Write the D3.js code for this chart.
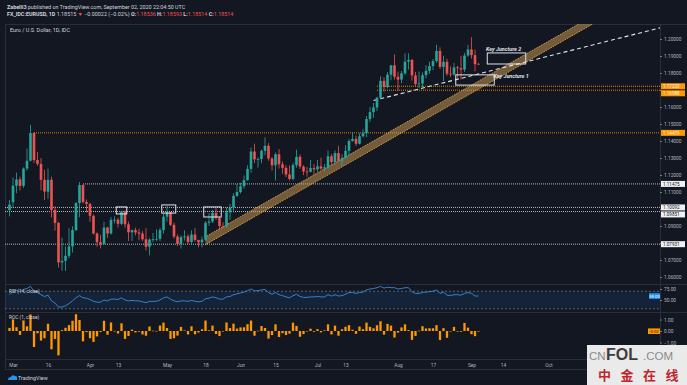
<!DOCTYPE html>
<html>
<head>
<meta charset="utf-8">
<script src="https://cdn.jsdelivr.net/npm/d3@7"></script>
<style>
  html,body{margin:0;padding:0;background:#131722;}
  svg{display:block;font-family:Roboto,"Liberation Sans",sans-serif;}
</style>
</head>
<body>
<svg id="chart" width="687" height="385"></svg>
<script>
// EUR/USD daily bars
var dates = ["2020-02-28",
  "2020-03-02","2020-03-03","2020-03-04","2020-03-05","2020-03-06","2020-03-09","2020-03-10","2020-03-11","2020-03-12","2020-03-13","2020-03-16","2020-03-17","2020-03-18","2020-03-19","2020-03-20","2020-03-23","2020-03-24","2020-03-25","2020-03-26","2020-03-27","2020-03-30","2020-03-31",
  "2020-04-01","2020-04-02","2020-04-03","2020-04-06","2020-04-07","2020-04-08","2020-04-09","2020-04-10","2020-04-13","2020-04-14","2020-04-15","2020-04-16","2020-04-17","2020-04-20","2020-04-21","2020-04-22","2020-04-23","2020-04-24","2020-04-27","2020-04-28","2020-04-29","2020-04-30",
  "2020-05-01","2020-05-04","2020-05-05","2020-05-06","2020-05-07","2020-05-08","2020-05-11","2020-05-12","2020-05-13","2020-05-14","2020-05-15","2020-05-18","2020-05-19","2020-05-20","2020-05-21","2020-05-22","2020-05-25","2020-05-26","2020-05-27","2020-05-28","2020-05-29",
  "2020-06-01","2020-06-02","2020-06-03","2020-06-04","2020-06-05","2020-06-08","2020-06-09","2020-06-10","2020-06-11","2020-06-12","2020-06-15","2020-06-16","2020-06-17","2020-06-18","2020-06-19","2020-06-22","2020-06-23","2020-06-24","2020-06-25","2020-06-26","2020-06-29","2020-06-30",
  "2020-07-01","2020-07-02","2020-07-03","2020-07-06","2020-07-07","2020-07-08","2020-07-09","2020-07-10","2020-07-13","2020-07-14","2020-07-15","2020-07-16","2020-07-17","2020-07-20","2020-07-21","2020-07-22","2020-07-23","2020-07-24","2020-07-27","2020-07-28","2020-07-29","2020-07-30","2020-07-31",
  "2020-08-03","2020-08-04","2020-08-05","2020-08-06","2020-08-07","2020-08-10","2020-08-11","2020-08-12","2020-08-13","2020-08-14","2020-08-17","2020-08-18","2020-08-19","2020-08-20","2020-08-21","2020-08-24","2020-08-25","2020-08-26","2020-08-27","2020-08-28","2020-08-31",
  "2020-09-01","2020-09-02","2020-09-03"];

var opens = [1.0993,
  1.1040,1.1137,1.1174,1.1136,1.1238,1.1284,1.1447,1.1288,1.1265,1.1172,1.1102,1.1172,1.0994,1.0918,1.0686,1.0695,1.0725,1.0780,1.0876,1.1035,1.1141,1.1041,
  1.1030,1.0960,1.0856,1.0805,1.0795,1.0891,1.0856,1.0936,1.0937,1.0913,1.0986,1.0910,1.0863,1.0876,1.0862,1.0855,1.0822,1.0778,1.0820,1.0823,1.0824,1.0876,
  1.0955,1.0983,1.0907,1.0838,1.0795,1.0834,1.0839,1.0806,1.0850,1.0818,1.0804,1.0820,1.0919,1.0926,1.0977,1.0948,1.0900,1.0899,1.0980,1.1007,1.1077,
  1.1100,1.1134,1.1170,1.1236,1.1338,1.1292,1.1294,1.1342,1.1372,1.1297,1.1257,1.1322,1.1263,1.1242,1.1203,1.1177,1.1258,1.1307,1.1250,1.1220,1.1219,1.1241,
  1.1233,1.1251,1.1238,1.1245,1.1310,1.1276,1.1329,1.1283,1.1300,1.1342,1.1400,1.1412,1.1384,1.1428,1.1446,1.1529,1.1570,1.1597,1.1655,1.1754,1.1717,1.1790,1.1845,
  1.1778,1.1761,1.1798,1.1867,1.1877,1.1786,1.1735,1.1738,1.1787,1.1813,1.1841,1.1870,1.1930,1.1836,1.1866,1.1796,1.1791,1.1833,1.1828,1.1820,1.1903,
  1.1938,1.1905,1.18536];

var highs = [1.1053,
  1.1185,1.1214,1.1190,1.1245,1.1356,1.1495,1.1453,1.1335,1.1300,1.1230,1.1237,1.1190,1.1017,1.0925,1.0831,1.0780,1.0887,1.0898,1.1040,1.1159,1.1145,1.1056,
  1.1036,1.0967,1.0862,1.0848,1.0925,1.0896,1.0952,1.0957,1.0949,1.0990,1.0990,1.0926,1.0879,1.0890,1.0884,1.0870,1.0887,1.0828,1.0859,1.0880,1.0888,1.0973,
  1.1019,1.0983,1.0920,1.0850,1.0845,1.0875,1.0851,1.0875,1.0888,1.0819,1.0838,1.0928,1.0975,1.0995,1.1008,1.0955,1.0923,1.1009,1.1030,1.1092,1.1147,
  1.1155,1.1197,1.1257,1.1361,1.1384,1.1305,1.1350,1.1422,1.1388,1.1306,1.1332,1.1353,1.1280,1.1257,1.1256,1.1272,1.1349,1.1321,1.1257,1.1248,1.1288,1.1264,
  1.1288,1.1303,1.1264,1.1345,1.1323,1.1345,1.1371,1.1322,1.1375,1.1411,1.1452,1.1431,1.1446,1.1469,1.1546,1.1601,1.1623,1.1660,1.1781,1.1775,1.1806,1.1848,1.1909,
  1.1808,1.1812,1.1916,1.1916,1.1883,1.1806,1.1809,1.1803,1.1845,1.1866,1.1882,1.1966,1.1951,1.1902,1.1884,1.1839,1.1859,1.1843,1.1901,1.1919,1.1966,
  1.2011,1.1937,1.18593];

var lows = [1.0957,
  1.1010,1.1093,1.1109,1.1124,1.1226,1.1280,1.1270,1.1254,1.1110,1.1053,1.1060,1.0950,1.0873,1.0655,1.0636,1.0636,1.0710,1.0744,1.0870,1.0952,1.1031,1.0980,
  1.0924,1.0850,1.0778,1.0768,1.0792,1.0830,1.0850,1.0915,1.0891,1.0906,1.0890,1.0812,1.0812,1.0845,1.0816,1.0812,1.0756,1.0727,1.0805,1.0812,1.0811,1.0855,
  1.0926,1.0900,1.0826,1.0782,1.0767,1.0814,1.0794,1.0795,1.0808,1.0775,1.0774,1.0812,1.0902,1.0917,1.0936,1.0871,1.0885,1.0889,1.0935,1.0980,1.1070,
  1.1091,1.1120,1.1167,1.1213,1.1271,1.1243,1.1270,1.1317,1.1284,1.1227,1.1168,1.1238,1.1207,1.1188,1.1168,1.1169,1.1243,1.1236,1.1199,1.1189,1.1215,1.1198,
  1.1218,1.1229,1.1220,1.1240,1.1259,1.1262,1.1277,1.1254,1.1296,1.1313,1.1396,1.1371,1.1380,1.1421,1.1423,1.1512,1.1537,1.1577,1.1652,1.1690,1.1710,1.1757,1.1761,
  1.1696,1.1740,1.1789,1.1820,1.1755,1.1723,1.1711,1.1712,1.1768,1.1795,1.1816,1.1860,1.1823,1.1753,1.1784,1.1777,1.1786,1.1772,1.1762,1.1805,1.1895,
  1.1885,1.1810,1.18514];

var closes = [1.1026,
  1.1137,1.1174,1.1136,1.1238,1.1284,1.1447,1.1288,1.1265,1.1172,1.1102,1.1172,1.0994,1.0918,1.0686,1.0695,1.0725,1.0780,1.0876,1.1035,1.1141,1.1041,1.1030,
  1.0960,1.0856,1.0805,1.0795,1.0891,1.0856,1.0936,1.0937,1.0913,1.0986,1.0910,1.0863,1.0876,1.0862,1.0855,1.0822,1.0778,1.0820,1.0823,1.0824,1.0876,1.0955,
  1.0983,1.0907,1.0838,1.0795,1.0834,1.0839,1.0806,1.0850,1.0818,1.0804,1.0820,1.0919,1.0926,1.0977,1.0948,1.0900,1.0899,1.0980,1.1007,1.1077,1.1100,
  1.1134,1.1170,1.1236,1.1338,1.1292,1.1294,1.1342,1.1372,1.1297,1.1257,1.1322,1.1263,1.1242,1.1203,1.1177,1.1258,1.1307,1.1250,1.1220,1.1219,1.1241,1.1233,
  1.1251,1.1238,1.1245,1.1310,1.1276,1.1329,1.1283,1.1300,1.1342,1.1400,1.1412,1.1384,1.1428,1.1446,1.1529,1.1570,1.1597,1.1655,1.1754,1.1717,1.1790,1.1845,1.1778,
  1.1761,1.1798,1.1867,1.1877,1.1786,1.1735,1.1738,1.1787,1.1813,1.1841,1.1870,1.1930,1.1836,1.1866,1.1796,1.1791,1.1833,1.1828,1.1820,1.1903,1.1938,
  1.1905,1.1852,1.18514];

// RSI (14, close), estimated from the lower pane
var rsiValues = [62,
  70,72,69,74,76,81,70,68,62,58,61,48,43,34,34,37,42,48,55,60,55,54,
  51,47,45,45,50,48,52,52,51,55,50,48,49,48,48,46,44,47,47,47,50,55,
  57,52,48,46,48,48,47,49,47,46,47,53,54,57,55,52,52,57,58,62,64,
  66,68,71,75,71,71,73,74,67,63,67,62,60,57,55,60,63,58,56,56,57,57,
  58,57,57,62,59,62,59,60,63,67,67,65,67,68,73,75,76,78,81,77,79,78,78,
  75,76,78,78,69,65,65,67,68,69,70,73,65,68,61,60,62,62,61,65,67,
  65,59,59];

// ROC (1, close), in percent
var rocValues = [0.27,
  1.01,0.33,-0.34,0.92,0.41,1.44,-1.39,-0.20,-0.83,-0.63,0.63,-1.59,-0.69,-2.12,0.08,0.28,0.51,0.89,1.46,0.96,-0.90,-0.10,
  -0.63,-0.95,-0.47,-0.09,0.89,-0.32,0.74,0.01,-0.22,0.67,-0.69,-0.43,0.12,-0.13,-0.06,-0.30,-0.41,0.39,0.03,0.01,0.48,0.73,
  0.26,-0.69,-0.63,-0.40,0.36,0.05,-0.30,0.41,-0.29,-0.13,0.15,0.91,0.06,0.47,-0.26,-0.44,-0.01,0.74,0.25,0.64,0.21,
  0.31,0.32,0.59,0.91,-0.41,0.02,0.43,0.26,-0.66,-0.35,0.58,-0.52,-0.19,-0.35,-0.23,0.72,0.44,-0.50,-0.27,-0.01,0.20,-0.07,
  0.16,-0.12,0.06,0.58,-0.30,0.47,-0.41,0.15,0.37,0.51,0.11,-0.25,0.39,0.16,0.73,0.36,0.23,0.50,0.85,-0.31,0.62,0.47,-0.57,
  -0.14,0.31,0.58,0.08,-0.77,-0.43,0.03,0.42,0.22,0.24,0.24,0.51,-0.79,0.25,-0.59,-0.04,0.36,-0.04,-0.07,0.70,0.29,
  -0.28,-0.45,-0.02];

var priceTicks = [1.06,1.07,1.08,1.09,1.10,1.11,1.12,1.13,1.14,1.15,1.16,1.17,1.18,1.19,1.20];
var rsiTicks = [75, 50];
var rocTicks = [1, 0, -1];

var timeTickDates = ["2020-03-02","2020-03-16","2020-04-01","2020-04-13","2020-05-01","2020-05-18","2020-06-01","2020-06-15","2020-07-01","2020-07-13","2020-08-03","2020-08-17","2020-09-01","2020-09-14","2020-10-01"];
var timeTickLabels = ["Mar","16","Apr","13","May","18","Jun","15","Jul","13","Aug","17","Sep","14","Oct"];

// horizontal levels drawn on the chart
var levelPrices = [1.14479, 1.17220, 1.16988, 1.11475, 1.10092, 1.09851, 1.07931];
var levelStarts = ["2020-03-10","2020-07-24","2020-07-24","2020-03-30",null,null,null];
var levelOrange = [true, true, true, false, false, false, false];

// rising channel and dashed trend line, two anchor points each
var channelDates = ["2020-05-18","2020-08-31"];
var channelLow = [1.0790, 1.1670];
var channelWidth = 0.0047;
var trendDates = ["2020-07-23","2020-08-31"];
var trendPrices = [1.1638, 1.1779];

// rectangles: first bar, last bar, top price, bottom price
var boxStart = ["2020-04-13","2020-04-30","2020-05-18","2020-09-08","2020-08-26"];
var boxEnd   = ["2020-04-15","2020-05-05","2020-05-22","2020-09-22","2020-09-09"];
var boxTop   = [1.1012, 1.1024, 1.1012, 1.1918, 1.1789];
var boxBottom= [1.0971, 1.0976, 1.0953, 1.1853, 1.1729];

var Chart = (function(){
  var svg = d3.select("#chart");
  var left = 5, right = 660;
  var mainTop = 24, mainBottom = 284, rsiBottom = 312, rocBottom = 359, axisBottom = 369;
  var up = "#26a69a", down = "#ef5350", orange = "#ff9800", grid = "#2a2e39", txt = "#b2b5be";

  // weekday count from Monday 2 March 2020
  function tradingIndex(s){
    var days = Math.round((Date.parse(s+"T00:00:00Z") - Date.UTC(2020,2,2))/864e5);
    var weeks = Math.floor(days/7);
    return weeks*5 + Math.min(days - weeks*7, 5);
  }

  var x = d3.scaleLinear().domain([0,100]).range([13,363]);
  var y = d3.scaleLinear().domain([1.06,1.20]).range([277,39]);
  var yr = d3.scaleLinear().domain([30,70]).range([308.8,291.2]);
  var yc = d3.scaleLinear().domain([-1,1]).range([342.5,319.5]);
  var idx = dates.map(tradingIndex);

  function clip(id, y0, y1){
    svg.append("clipPath").attr("id",id).append("rect")
      .attr("x",left).attr("y",y0).attr("width",right-left).attr("height",y1-y0);
  }

  function frame(){
    svg.append("rect").attr("width",687).attr("height",385).attr("fill","#131722");
    clip("clipMain", mainTop, mainBottom);
    clip("clipRsi", mainBottom, rsiBottom);
    clip("clipRoc", rsiBottom, rocBottom);
    [mainTop, mainBottom, rsiBottom, rocBottom, axisBottom].forEach(function(v){
      svg.append("line").attr("x1",left).attr("x2",687).attr("y1",v+0.5).attr("y2",v+0.5)
        .attr("stroke",grid).attr("stroke-width",1);
    });
    svg.append("line").attr("x1",left+0.5).attr("x2",left+0.5).attr("y1",mainTop).attr("y2",axisBottom)
      .attr("stroke",grid);
    svg.append("line").attr("x1",right+0.5).attr("x2",right+0.5).attr("y1",mainTop).attr("y2",axisBottom)
      .attr("stroke",grid);
  }

  function header(){
    var t1 = svg.append("text").attr("x",7).attr("y",9).attr("font-size",5.4).attr("fill","#d1d4dc");
    t1.append("tspan").attr("font-weight","bold").text("Zabelli3");
    t1.append("tspan").text(" published on TradingView.com, September 02, 2020 22:04:50 UTC");
    var t2 = svg.append("text").attr("x",7).attr("y",16).attr("font-size",5.4).attr("fill","#d1d4dc");
    t2.append("tspan").attr("font-weight","bold").text("FX_IDC:EURUSD, 1D ");
    t2.append("tspan").text("1.18515 ");
    t2.append("tspan").attr("fill",down).text("\u25BC ");
    t2.append("tspan").text("\u22120.00022 (\u22120.02%) ");
    var ohlc = [["O:","1.18536"],["H:","1.18593"],["L:","1.18514"],["C:","1.18514"]];
    ohlc.forEach(function(p){
      t2.append("tspan").attr("font-weight","bold").text(p[0]);
      t2.append("tspan").attr("fill",down).text(p[1]+" ");
    });
    svg.append("text").attr("x",10).attr("y",32).attr("font-size",5.4).attr("fill","#d1d4dc")
      .text("Euro / U.S. Dollar, 1D, IDC");
  }

  function drawLevels(g){
    levelPrices.forEach(function(p,i){
      var x0 = levelStarts[i] ? x(tradingIndex(levelStarts[i])) : left;
      g.append("line").attr("x1",x0).attr("x2",right).attr("y1",y(p)).attr("y2",y(p))
        .attr("stroke",levelOrange[i] ? orange : "#d1d4dc").attr("stroke-width",1)
        .attr("stroke-dasharray","1,1").attr("opacity",0.85);
    });
  }

  function drawChannel(g){
    var i0 = tradingIndex(channelDates[0]), i1 = tradingIndex(channelDates[1]);
    var slope = (channelLow[1]-channelLow[0])/(i1-i0);
    var iEnd = i0 + 140;
    var lowEnd = channelLow[0] + slope*(iEnd-i0);
    var pts = [[i0,channelLow[0]],[iEnd,lowEnd],[iEnd,lowEnd+channelWidth],[i0,channelLow[0]+channelWidth]];
    g.append("polygon")
      .attr("points", pts.map(function(p){ return x(p[0])+","+y(p[1]); }).join(" "))
      .attr("fill", "#d4a15a").attr("fill-opacity",0.5);
    [0, channelWidth].forEach(function(off){
      g.append("line").attr("x1",x(i0)).attr("y1",y(channelLow[0]+off))
        .attr("x2",x(iEnd)).attr("y2",y(lowEnd+off))
        .attr("stroke","#f0a830").attr("stroke-width",1).attr("stroke-dasharray","1,1");
    });
  }

  function drawTrend(g){
    var i0 = tradingIndex(trendDates[0]), i1 = tradingIndex(trendDates[1]);
    var slope = (trendPrices[1]-trendPrices[0])/(i1-i0);
    var iEnd = i0 + 120;
    g.append("line").attr("x1",x(i0)).attr("y1",y(trendPrices[0]))
      .attr("x2",x(iEnd)).attr("y2",y(trendPrices[0]+slope*(iEnd-i0)))
      .attr("stroke","#e0e3eb").attr("stroke-width",1.1).attr("stroke-dasharray","4,3");
  }

  function drawCandles(g){
    var bw = 2.6;
    var bars = g.selectAll("g.bar").data(d3.range(dates.length)).enter().append("g")
      .attr("class","bar")
      .attr("fill", function(i){ return closes[i] >= opens[i] ? up : down; })
      .attr("stroke", function(i){ return closes[i] >= opens[i] ? up : down; });
    bars.append("line")
      .attr("x1",function(i){ return x(idx[i]); }).attr("x2",function(i){ return x(idx[i]); })
      .attr("y1",function(i){ return y(highs[i]); }).attr("y2",function(i){ return y(lows[i]); })
      .attr("stroke-width",0.8);
    bars.append("rect")
      .attr("x",function(i){ return x(idx[i]) - bw/2; })
      .attr("width",bw)
      .attr("y",function(i){ return y(Math.max(opens[i],closes[i])); })
      .attr("height",function(i){ return Math.max(0.8, Math.abs(y(opens[i])-y(closes[i]))); })
      .attr("stroke","none");
  }

  function drawBoxes(g){
    boxStart.forEach(function(s,i){
      var x0 = x(tradingIndex(s)) - 1.75, x1 = x(tradingIndex(boxEnd[i])) + 1.75;
      g.append("rect").attr("x",x0).attr("y",y(boxTop[i]))
        .attr("width",x1-x0).attr("height",y(boxBottom[i])-y(boxTop[i]))
        .attr("fill","none").attr("stroke","#e0e3eb").attr("stroke-width",1);
    });
    var kj2x = x(tradingIndex(boxStart[3])) - 3, kj1x = x(tradingIndex(boxEnd[4])) + 1;
    g.append("text").attr("x",kj2x).attr("y",y(boxTop[3])-1.5)
      .attr("font-size",5.4).attr("font-weight","bold").attr("font-style","italic")
      .attr("fill","#e0e3eb").text("Key Juncture 2");
    g.append("text").attr("x",kj1x).attr("y",y(boxTop[4])+3)
      .attr("font-size",5.4).attr("font-weight","bold").attr("font-style","italic")
      .attr("fill","#e0e3eb").text("Key Juncture 1");
  }

  function priceAxis(){
    var ax = svg.append("g").attr("transform","translate("+right+",0)")
      .call(d3.axisRight(y).tickValues(priceTicks).tickFormat(d3.format(".5f")).tickSize(2).tickPadding(2));
    ax.select(".domain").remove();
    ax.selectAll("line").attr("stroke","#787b86");
    ax.selectAll("text").attr("fill",txt).attr("font-size",4.8).attr("font-family","Roboto,sans-serif");
    // hide the ticks that sit under a level label
    ax.selectAll(".tick").filter(function(d){
      return levelPrices.some(function(p){ return Math.abs(y(p) - y(d)) < 7; });
    }).select("text").remove();

    // level labels, pushed apart when they would overlap
    var order = d3.range(levelPrices.length).sort(function(a,b){ return levelPrices[b]-levelPrices[a]; });
    var last = -100;
    order.forEach(function(i){
      var cy = Math.max(y(levelPrices[i]), last + 7);
      last = cy;
      svg.append("rect").attr("x",right+1).attr("y",cy-3).attr("width",24).attr("height",6)
        .attr("fill",levelOrange[i] ? orange : "#f0f0f0");
      svg.append("text").attr("x",right+3).attr("y",cy+1.7).attr("font-size",4.6)
        .attr("fill",levelOrange[i] ? "#fff3e0" : "#131722").text(levelPrices[i].toFixed(5));
    });

    var ar = svg.append("g").attr("transform","translate("+right+",0)")
      .call(d3.axisRight(yr).tickValues(rsiTicks).tickFormat(d3.format(".2f")).tickSize(2).tickPadding(2));
    var ac = svg.append("g").attr("transform","translate("+right+",0)")
      .call(d3.axisRight(yc).tickValues(rocTicks).tickFormat(d3.format(".2f")).tickSize(2).tickPadding(2));
    [ar, ac].forEach(function(a){
      a.select(".domain").remove();
      a.selectAll("line").attr("stroke","#787b86");
      a.selectAll("text").attr("fill",txt).attr("font-size",4.8).attr("font-family","Roboto,sans-serif");
    });
  }

  function timeAxis(){
    var at = svg.append("g").attr("transform","translate(0,"+rocBottom+")")
      .call(d3.axisBottom(x).tickValues(timeTickDates.map(tradingIndex))
        .tickFormat(function(d,i){ return timeTickLabels[i]; }).tickSize(0).tickPadding(5));
    at.select(".domain").remove();
    at.selectAll("text").attr("fill",txt).attr("font-size",4.8).attr("font-family","Roboto,sans-serif");
  }

  function rsiPane(){
    var g = svg.append("g").attr("clip-path","url(#clipRsi)");
    g.append("rect").attr("x",left).attr("width",right-left)
      .attr("y",yr(70)).attr("height",yr(30)-yr(70)).attr("fill","#2196f3").attr("fill-opacity",0.1);
    [70,30].forEach(function(v){
      g.append("line").attr("x1",left).attr("x2",right).attr("y1",yr(v)).attr("y2",yr(v))
        .attr("stroke","#787b86").attr("stroke-dasharray","2,2").attr("stroke-width",0.7);
    });
    g.append("path").datum(d3.range(dates.length))
      .attr("d", d3.line().x(function(i){ return x(idx[i]); }).y(function(i){ return yr(rsiValues[i]); }))
      .attr("fill","none").attr("stroke","#3b8ad9").attr("stroke-width",0.9);
    svg.append("text").attr("x",9).attr("y",293).attr("font-size",4.8).attr("fill","#d1d4dc")
      .text("RSI (14, close)");
    var lastR = rsiValues[rsiValues.length-1];
    svg.append("rect").attr("x",649).attr("y",yr(lastR)-2.8).attr("width",11).attr("height",5.6).attr("fill","#2196f3");
    svg.append("text").attr("x",654.5).attr("y",yr(lastR)+1.7).attr("text-anchor","middle")
      .attr("font-size",4.2).attr("fill","#fff").text(lastR.toFixed(2));
  }

  function rocPane(){
    var g = svg.append("g").attr("clip-path","url(#clipRoc)");
    var bw = 2.3;
    g.selectAll("rect.roc").data(d3.range(dates.length)).enter().append("rect")
      .attr("class","roc")
      .attr("x",function(i){ return x(idx[i]) - bw/2; })
      .attr("width",bw)
      .attr("y",function(i){ return Math.min(yc(0), yc(rocValues[i])); })
      .attr("height",function(i){ return Math.max(0.6, Math.abs(yc(rocValues[i]) - yc(0))); })
      .attr("fill",orange);
    svg.append("text").attr("x",9).attr("y",319).attr("font-size",4.8).attr("fill","#d1d4dc")
      .text("ROC (1, close)");
    var lastC = rocValues[rocValues.length-1];
    svg.append("rect").attr("x",648).attr("y",yc(lastC)-2.8).attr("width",12).attr("height",5.6).attr("fill",orange);
    svg.append("text").attr("x",654).attr("y",yc(lastC)+1.7).attr("text-anchor","middle")
      .attr("font-size",4.2).attr("fill","#131722").text(lastC.toFixed(2));
  }

  function footer(){
    svg.append("path").attr("d","M8,380 q0,-3 3,-3 q1,-3 4,-1 q3,0 2,4 z").attr("fill","#2196f3");
    svg.append("text").attr("x",18).attr("y",380).attr("font-size",5.4).attr("fill","#d1d4dc")
      .text("TradingView");
    // cnfol watermark
    svg.append("rect").attr("x",587).attr("y",345).attr("width",100).attr("height",40).attr("fill","#eaeaea");
    var w = svg.append("text").attr("y",360).attr("font-family","'Liberation Sans',Arial,sans-serif");
    w.append("tspan").attr("x",589).attr("font-size",11.5).attr("fill","#8a8a8a").text("CN");
    w.append("tspan").attr("x",606).attr("font-size",16).attr("font-weight","bold").attr("fill","#3c3c3c").text("FOL");
    w.append("tspan").attr("x",643).attr("font-size",11.5).attr("fill","#8a8a8a").text(".COM");
    var cn = svg.append("text").attr("y",380).attr("font-size",13).attr("font-weight","bold")
      .attr("fill","#c0272d").attr("font-family","'Noto Sans CJK SC',sans-serif");
    var chars = "中金在线".split("");
    chars.forEach(function(ch,k){
      cn.append("tspan").attr("x",598 + k*22.5).text(ch);
    });
  }

  return {
    init: function(){
      frame();
      header();
      var main = svg.append("g").attr("clip-path","url(#clipMain)");
      drawLevels(main);
      drawChannel(main);
      drawTrend(main);
      drawCandles(main);
      drawBoxes(main);
      priceAxis();
      rsiPane();
      rocPane();
      timeAxis();
      footer();
    }
  };
})();

Chart.init();
</script>
</body>
</html>
